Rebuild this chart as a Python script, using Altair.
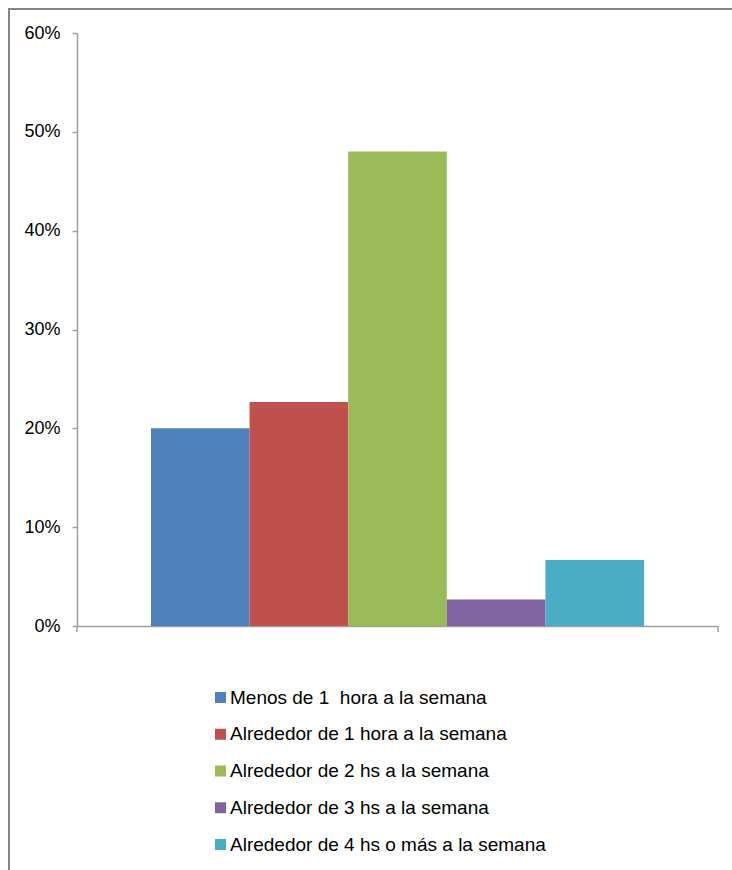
import altair as alt
import pandas as pd

series = [
    "Menos de 1\u00a0 hora a la semana",
    "Alrededor de 1 hora a la semana",
    "Alrededor de 2 hs a la semana",
    "Alrededor de 3 hs a la semana",
    "Alrededor de 4 hs o más a la semana",
]
values = [0.20, 0.2267, 0.48, 0.0267, 0.0667]
colors = ["#4F81BD", "#C0504D", "#9BBB59", "#8064A2", "#4BACC6"]

df = pd.DataFrame({"serie": series, "valor": values})

W, H = 641, 593
AXIS_COLOR = "#A0A0A0"
FONT = "Liberation Sans"

bars = alt.Chart(df).mark_bar().encode(
    x=alt.X("serie:N", sort=series,
            scale=alt.Scale(paddingInner=0, paddingOuter=0.75),
            axis=alt.Axis(title=None, labels=False, ticks=False, domain=True,
                          domainColor=AXIS_COLOR, domainWidth=1.5)),
    y=alt.Y("valor:Q", scale=alt.Scale(domain=[0, 0.6], nice=False),
            axis=alt.Axis(title=None, format=".0%", values=[0, 0.1, 0.2, 0.3, 0.4, 0.5, 0.6],
                          grid=False, domainColor=AXIS_COLOR, domainWidth=1.5,
                          tickColor=AXIS_COLOR, tickSize=5, tickWidth=1.5,
                          labelPadding=12, labelFontSize=18, labelFont=FONT,
                          labelColor="#000000")),
    color=alt.Color("serie:N", sort=series,
                    scale=alt.Scale(domain=series, range=colors),
                    legend=alt.Legend(title=None, orient="none", legendX=134, legendY=655,
                                      symbolType="square", symbolSize=121,
                                      symbolStrokeWidth=0, labelFontSize=19,
                                      labelFont=FONT, labelColor="#000000",
                                      labelOffset=0, rowPadding=16.75, padding=0,
                                      labelLimit=500)),
)

deco = pd.DataFrame({"k": [0]})
# end ticks of the category axis
tick_left = alt.Chart(deco).mark_rule(color=AXIS_COLOR, strokeWidth=1.5).encode(
    x=alt.value(0), y=alt.value(H), y2=alt.value(H + 6))
tick_right = alt.Chart(deco).mark_rule(color=AXIS_COLOR, strokeWidth=1.5).encode(
    x=alt.value(W), y=alt.value(H), y2=alt.value(H + 6))
# chart frame
frame = alt.Chart(deco).mark_rect(fill=None, stroke="#868686", strokeWidth=2).encode(
    x=alt.value(-68), y=alt.value(-24), x2=alt.value(W + 100), y2=alt.value(H + 300))

chart = alt.layer(bars, tick_left, tick_right, frame).properties(
    width=W, height=H,
    padding={"left": 77, "top": 33, "right": 14, "bottom": 244},
    autosize=alt.AutoSizeParams(type="none"),
    background="white",
).configure_view(stroke=None)

chart.save("out.html", embed_options={"renderer": "svg", "actions": False})
